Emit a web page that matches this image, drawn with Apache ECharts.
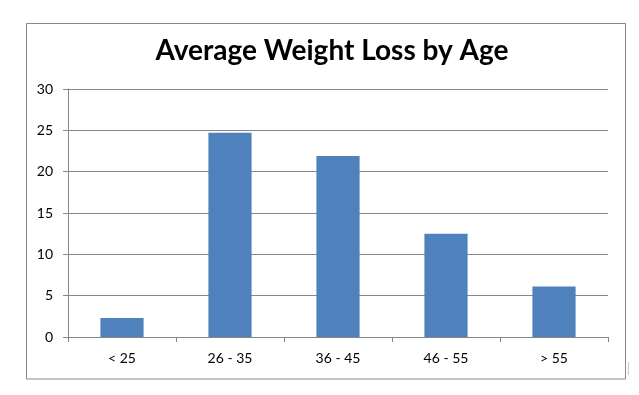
<!DOCTYPE html>
<html><head><meta charset="utf-8">
<script src="https://cdn.jsdelivr.net/npm/echarts@6/dist/echarts.min.js"></script>
<style>html,body{margin:0;padding:0;background:#fff}#c{width:639px;height:395px}</style>
</head><body><div id="c"></div>
<script>
const categories = ['< 25', '26 - 35', '36 - 45', '46 - 55', '> 55'];
const weightLoss = [2.3, 24.7, 21.9, 12.5, 6.1];
const yTicks = { min: 0, max: 30, interval: 5 };

const chart = echarts.init(document.getElementById('c'), null, { renderer: 'canvas' });
chart.setOption({
  animation: false,
  backgroundColor: '#fff',
  title: {
    text: 'Average Weight Loss by Age',
    left: 327, top: 32, textAlign: 'center',
    textStyle: { fontFamily: 'Lato', fontWeight: 'bold', fontSize: 28, color: '#000' }
  },
  graphic: [
    { type: 'rect', shape: { x: 26.5, y: 23.5, width: 599, height: 355.5 }, style: { fill: 'none', stroke: '#898989', lineWidth: 1 }, silent: true },
    { type: 'line', shape: { x1: 628.5, y1: 362, x2: 628.5, y2: 375 }, style: { stroke: '#c8c8c8', lineWidth: 1 }, silent: true }
  ],
  grid: { left: 68, right: 31, top: 89, bottom: 58, containLabel: false },
  xAxis: {
    type: 'category', data: categories, boundaryGap: true,
    axisLine: { show: true, lineStyle: { color: '#868686', width: 1 } },
    axisTick: { show: true, length: 5, alignWithLabel: false, lineStyle: { color: '#868686' } },
    axisLabel: { color: '#000', fontFamily: 'Lato', fontSize: 14, margin: 14 }
  },
  yAxis: {
    type: 'value', min: yTicks.min, max: yTicks.max, interval: yTicks.interval,
    axisLine: { show: true, lineStyle: { color: '#868686', width: 1 } },
    axisTick: { show: true, length: 5, lineStyle: { color: '#868686' } },
    splitLine: { show: true, lineStyle: { color: '#868686', width: 1 } },
    axisLabel: { color: '#000', fontFamily: 'Lato', fontSize: 14, margin: 15 }
  },
  series: [{
    type: 'bar', data: weightLoss, barWidth: '40%',
    itemStyle: { color: '#4F81BD' }
  }]
});
</script></body></html>
